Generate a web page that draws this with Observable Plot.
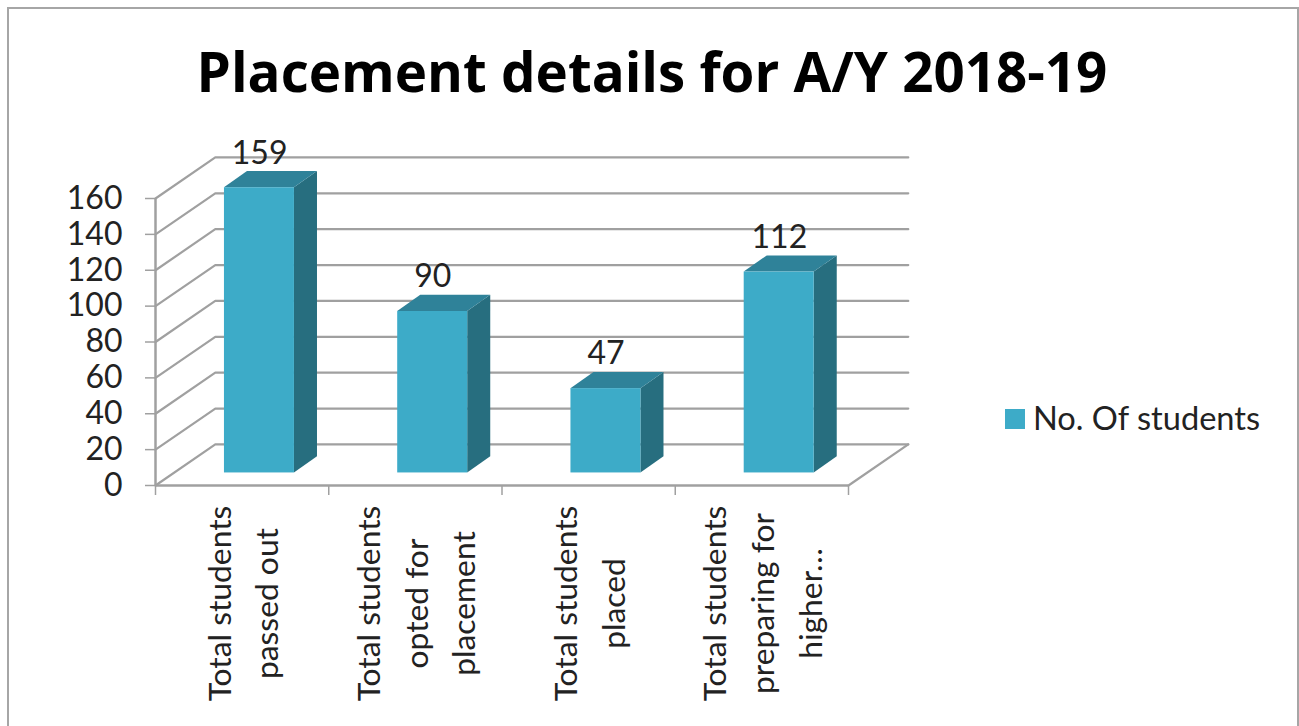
<!DOCTYPE html>
<html>
<head>
<meta charset="utf-8">
<script src="https://cdn.jsdelivr.net/npm/d3@7"></script>
<script src="https://cdn.jsdelivr.net/npm/@observablehq/plot@0.6"></script>
<style>
  html, body { margin: 0; padding: 0; background: #fff; }
  #page { position: relative; width: 1299px; height: 726px; overflow: hidden; background: #fff; font-family: Lato, sans-serif; }
  #frame { position: absolute; left: 7px; top: 7px; width: 1288px; height: 740px; border: 2px solid #a6a6a6; pointer-events: none; }
  h1 { margin: 0; height: 130px; width: 1299px; padding-left: 5px; box-sizing: border-box; text-align: center; font-family: "Open Sans", sans-serif; font-size: 54.7px; font-weight: 700; line-height: 142px; color: #000; }
  #chart svg { display: block; }
  #legend { position: absolute; left: 1005px; top: 396px; display: flex; align-items: center; height: 42px; font-size: 32.6px; color: #222; white-space: nowrap; }
  #legend i { display: block; width: 20px; height: 20px; margin-top: 4px; background: #3dabc8; margin-right: 8px; }
</style>
</head>
<body>
<div id="page">
  <h1>Placement details for A/Y 2018-19</h1>
  <div id="chart"></div>
  <div id="legend"><i></i><span>No. Of students</span></div>
  <div id="frame"></div>
</div>
<script>
const categories = [
  "Total students\npassed out",
  "Total students\nopted for\nplacement",
  "Total students\nplaced",
  "Total students\npreparing for\nhigher…"
];
const students = [159, 90, 47, 112];
const yTicks = [0, 20, 40, 60, 80, 100, 120, 140, 160];
const xTicks = [0, 1, 2, 3, 4];

const seriesName = "No. Of students";

// Oblique projection, expressed in data units of the two scales
const wallX = 0.345, wallY = 22.9;   // depth of the chart box
const gapX = 0.1, gapY = 7;          // front of the bars inside the box
const barDepthX = 0.133, barDepthY = 9;
const barW = 0.404;

const grey = "#a0a0a0";
const front = "#3dabc8", topFace = "#2f8299", sideFace = "#276e7f";

const bars = students.map((v, i) => {
  const left = i + 0.5 - barW / 2 + gapX;
  return {v, i, left, right: left + barW, base: gapY, top: v + gapY};
});
const sideRows = bars.flatMap(b => [
  {i: b.i, x: b.right, y1: b.base, y2: b.top},
  {i: b.i, x: b.right + barDepthX, y1: b.base + barDepthY, y2: b.top + barDepthY}
]);
const topRows = bars.flatMap(b => [
  {i: b.i, y: b.top, x1: b.left, x2: b.right},
  {i: b.i, y: b.top + barDepthY, x1: b.left + barDepthX, x2: b.right + barDepthX}
]);
const wallRows = yTicks.flatMap(t => [
  {t, x: 0, y: t},
  {t, x: wallX, y: t + wallY},
  {t, x: 4 + wallX, y: t + wallY}
]);
const floorRight = [{x: 4, y: 0}, {x: 4 + wallX, y: wallY}];

const plot = Plot.plot({
  width: 1299,
  height: 596,
  marginTop: 68,
  marginBottom: 241,
  marginLeft: 155,
  marginRight: 451,
  style: {fontFamily: 'Lato, sans-serif', fontSize: "32px", color: "#222", background: "transparent", overflow: "visible"},
  x: {domain: [0, 4], axis: null},
  y: {domain: [0, 160], axis: null},
  marks: [
    Plot.line(wallRows, {x: "x", y: "y", z: "t", stroke: grey, strokeWidth: 2.2}),
    Plot.line(floorRight, {x: "x", y: "y", stroke: grey, strokeWidth: 2.2}),
    Plot.ruleX([0], {y1: 0, y2: 160, stroke: grey, strokeWidth: 2.5}),
    Plot.ruleY([0], {x1: 0, x2: 4, stroke: grey, strokeWidth: 2.5}),
    Plot.axisY({ticks: yTicks, tickSize: 10, tickPadding: 23, stroke: grey, strokeWidth: 1.5, label: null, fontSize: 32}),
    Plot.axisX({ticks: xTicks, tickSize: 10, tickFormat: () => "", stroke: grey, strokeWidth: 1.5, label: null}),
    Plot.areaY(sideRows, {x: "x", y1: "y1", y2: "y2", z: "i", fill: sideFace}),
    Plot.areaX(topRows, {y: "y", x1: "x1", x2: "x2", z: "i", fill: topFace}),
    Plot.rect(bars, {x1: "left", x2: "right", y1: "base", y2: "top", fill: front}),
    Plot.text(students, {
      x: (d, i) => i + 0.5, y: d => d, text: d => String(d),
      dx: 17.5, dy: -47, fontSize: 32, fill: "#222"
    }),
    Plot.text(categories, {
      x: (d, i) => i + 0.5, frameAnchor: "bottom", text: d => d,
      rotate: -90, dx: -3, dy: 118, lineHeight: 1.5, fontSize: 31.8, fill: "#222",
      textAnchor: "middle", lineAnchor: "middle"
    })
  ]
});
document.getElementById("chart").appendChild(plot);
</script>
</body>
</html>
